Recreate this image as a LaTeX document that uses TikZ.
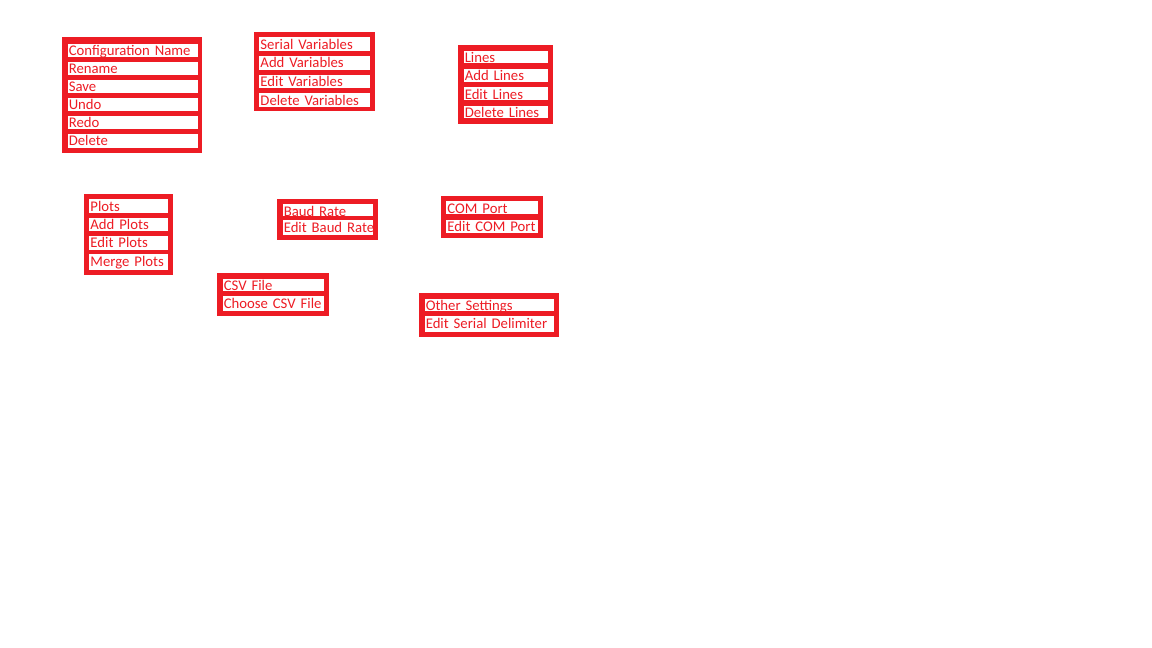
\documentclass[tikz,border=0pt]{standalone}
\usepackage{fontspec}
\setmainfont{Carlito}
\definecolor{boxred}{RGB}{237,28,36}
\tikzset{
  rowbox/.style={fill=white, inner ysep=0pt, inner xsep=0.9pt, anchor=north west,
    text=boxred, font=\fontsize{11.05}{13}\selectfont, align=left, text height=9pt},
  frame/.style={fill=boxred}
}
% #1 name, #2 left, #3 right, #4 top, #5 bottom (px), #6 text
\newcommand\mkrow[6]{%
  \pgfmathsetmacro\mkrowtw{(#3-#2)*0.75-1.8}%
  \pgfmathsetmacro\mkrowtd{(#5-#4)*0.75-9}%
  \node[rowbox, text width=\mkrowtw pt, text depth=\mkrowtd pt] (#1) at (#2,#4) {\mbox{#6}};%
}
\begin{document}
\begin{tikzpicture}[x=0.75pt,y=-0.75pt]
\fill[white] (0,0) rectangle (1152,648);
\useasboundingbox (0,0) rectangle (1152,648);
% Configuration group
\fill[frame] (61.7,37.3) rectangle (201.7,152.7);
\mkrow{cfgname}{67.3}{197.3}{43.3}{56.3}{Configuration Name}
\mkrow{cfgrename}{67.3}{197.3}{61.3}{74.3}{Rename}
\mkrow{cfgsave}{67.3}{197.3}{79.3}{92.3}{Save}
\mkrow{cfgundo}{67.3}{197.3}{97.3}{110.3}{Undo}
\mkrow{cfgredo}{67.3}{197.3}{115.3}{128.3}{Redo}
\mkrow{cfgdel}{67.3}{197.3}{133.3}{147.7}{Delete}
% Serial variables group
\fill[frame] (254,32) rectangle (375,111.3);
\mkrow{varhead}{259}{370}{37}{50.7}{Serial Variables}
\mkrow{varadd}{259}{370}{55.7}{69.3}{Add Variables}
\mkrow{varedit}{259}{370}{74.3}{88}{Edit Variables}
\mkrow{vardel}{259}{370}{93}{106.7}{Delete Variables}
% Lines group
\fill[frame] (458.3,45.3) rectangle (552.7,124);
\mkrow{linhead}{463.3}{547.7}{50.3}{62.7}{Lines}
\mkrow{linadd}{463.3}{547.7}{68.7}{81.3}{Add Lines}
\mkrow{linedit}{463.3}{547.7}{87}{99.7}{Edit Lines}
\mkrow{lindel}{463.3}{547.7}{105.3}{118}{Delete Lines}
% Plots group
\fill[frame] (84,194) rectangle (172.7,275);
\mkrow{plthead}{89}{167.7}{199}{212.7}{Plots}
\mkrow{pltadd}{89}{167.7}{217.3}{231}{Add Plots}
\mkrow{pltedit}{89}{167.7}{235.7}{249.3}{Edit Plots}
\mkrow{pltmerge}{89}{167.7}{254}{270}{Merge Plots}
% Baud rate group
\fill[frame] (277.3,199.3) rectangle (377.7,240);
\mkrow{baudhead}{282.3}{372.7}{204}{215.3}{Baud Rate}
\mkrow{baudedit}{282.3}{372.7}{220}{235}{Edit Baud Rate}
% COM port group
\fill[frame] (441,196) rectangle (542.7,237.7);
\mkrow{comhead}{446}{537.7}{201}{214}{COM Port}
\mkrow{comedit}{446}{537.7}{219.3}{232.7}{Edit COM Port}
% CSV file group
\fill[frame] (217.3,273.3) rectangle (329,316);
\mkrow{csvhead}{222.3}{324}{278.3}{291}{CSV File}
\mkrow{csvchoose}{222.3}{324}{296}{310.7}{Choose CSV File}
% Other settings group
\fill[frame] (419.3,293.3) rectangle (559,336.7);
\mkrow{othhead}{424.3}{553.3}{298.3}{310.7}{Other Settings}
\mkrow{othdelim}{424.3}{553.3}{316}{331.7}{Edit Serial Delimiter}
\end{tikzpicture}
\end{document}
